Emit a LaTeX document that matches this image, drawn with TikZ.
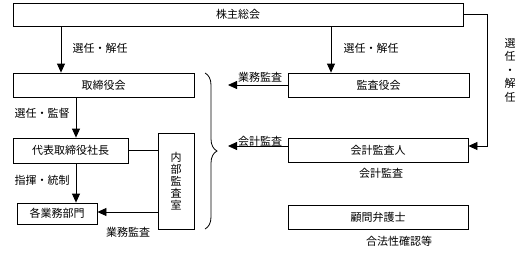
\documentclass[tikz,border=0pt]{standalone}
\usepackage{fontspec}
\setmainfont{Noto Sans CJK JP}
\usetikzlibrary{arrows.meta,decorations.pathreplacing}
\begin{document}
\begin{tikzpicture}[x=1bp,y=-1bp,
  box/.style={draw,line width=0.8bp,inner sep=0pt,font=\fontsize{11bp}{13bp}\selectfont},
  lbl/.style={inner sep=0pt,font=\fontsize{11bp}{13bp}\selectfont},
  arr/.style={line width=0.8bp,-{Triangle[width=8bp,length=9bp]}},
  ln/.style={line width=0.8bp}]
\useasboundingbox (0,0) rectangle (531,253);
% boxes
\node[box,minimum width=450bp,minimum height=23bp] (top) at (238,14.5) {株主総会};
\node[box,minimum width=181bp,minimum height=24bp] (tori) at (103.5,85) {取締役会};
\node[box,minimum width=181bp,minimum height=24bp] (kansa) at (378.5,85) {監査役会};
\node[box,minimum width=115bp,minimum height=25bp] (daihyo) at (70.5,150.5) {代表取締役社長};
\node[box,minimum width=36bp,minimum height=96bp,align=center,
  font=\fontsize{11bp}{12bp}\selectfont] (naibu) at (176,181) {内\\部\\監\\査\\室};
\node[box,minimum width=80bp,minimum height=21bp] (kakubu) at (57,213.5) {各業務部門};
\node[box,minimum width=180bp,minimum height=24bp] (kaikei) at (378,150) {会計監査人};
\node[box,minimum width=180bp,minimum height=24bp] (komon) at (378,217) {顧問弁護士};
% helper coordinates
\coordinate (cl) at (61,0);
\coordinate (cr) at (331,0);
\coordinate (cd) at (76,0);
\coordinate (bw) at (228,0);
\coordinate (rx) at (487,0);
\coordinate (ry) at (0,146);
\coordinate (mi) at (0,212);
% connectors
\draw[arr] (top.south -| cl) -- (tori.north -| cl);
\draw[arr] (top.south -| cr) -- (kansa.north -| cr);
\draw[arr] (tori.south -| cd) -- (daihyo.north -| cd);
\draw[arr] (daihyo.south -| cd) -- (kakubu.north -| cd);
\draw[ln] (daihyo.east) -- (naibu.west |- daihyo.east);
\draw[arr] (naibu.west |- mi) -- (kakubu.east |- mi);
\draw[arr] (kansa.west) -- (bw |- kansa.west);
\draw[arr] (kaikei.west |- ry) -- (bw |- ry);
\draw[arr] (top.east) -- (rx |- top.east) -- (rx |- ry) -- (kaikei.east |- ry);
% brace
\draw[ln,decorate,decoration={brace,amplitude=12bp}] (205,73) -- (205,229);
% labels
\node[lbl] (l1) at (100,48) {選任・解任};
\node[lbl] (l2) at (371,48) {選任・解任};
\node[lbl,align=center,font=\fontsize{11bp}{13.5bp}\selectfont] (l3) at (510,70) {選\\任\\・\\解\\任};
\node[lbl] (l4) at (260,77) {業務監査};
\node[lbl] (l5) at (260,141) {会計監査};
\node[lbl] (l6) at (42,113) {選任・監督};
\node[lbl] (l7) at (42,180) {指揮・統制};
\node[lbl] (l8) at (128,232) {業務監査};
\node[lbl] (l9) at (381,173) {会計監査};
\node[lbl] (l10) at (399,241) {合法性確認等};
\end{tikzpicture}
\end{document}
